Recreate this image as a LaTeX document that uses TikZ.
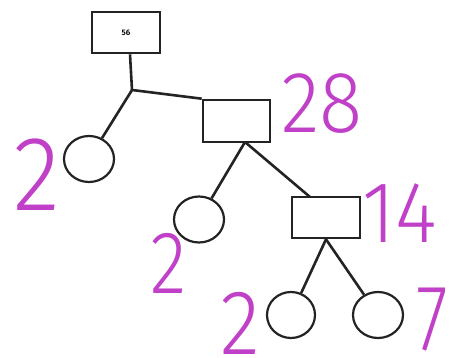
\documentclass[tikz,border=0pt]{standalone}
\usepackage{fontspec}
\setmainfont{Fira Sans}[UprightFont=* Light]
\usetikzlibrary{shapes.geometric,calc}
\definecolor{mag}{RGB}{192,64,200}
\definecolor{ink}{RGB}{35,35,35}
\newcommand{\narrow}[2][0.92]{\scalebox{#1}[1]{#2}}
\begin{document}
\begin{tikzpicture}[x=1pt,y=-1pt,
  link/.style={draw=ink,line width=2.6pt},
  boxnode/.style={draw=ink,line width=2.6pt,rectangle,inner sep=0pt},
  circnode/.style={draw=ink,line width=2.2pt,ellipse,inner sep=0pt,minimum width=50pt,minimum height=46pt},
  num/.style={text=mag,font=\fontsize{87}{87}\selectfont,inner sep=0pt,anchor=base west}]
\useasboundingbox (0,0) rectangle (452,358);
\node[boxnode,minimum width=68pt,minimum height=41pt] (b56) at (126,32.5) {\fontsize{8}{8}\selectfont\bfseries 56};
\node[boxnode,minimum width=67pt,minimum height=42pt] (b28) at (236.5,121) {};
\node[boxnode,minimum width=68pt,minimum height=41pt] (b14) at (326,217.5) {};
\node[circnode] (c1) at (89,159) {};
\node[circnode] (c2) at (199,219.5) {};
\node[circnode,minimum width=48pt] (c3) at (291,315) {};
\node[circnode] (c4) at (378,315) {};
\coordinate (J) at (132,90);
\coordinate (p28) at (245,142);
\coordinate (t14) at (310,197);
\draw[link] ($(b56.south)+(4,0)$) -- (J);
\draw[link] (J) -- (c1);
\draw[link] (J) -- (b28.north west);
\draw[link] (p28) -- (c2);
\draw[link] (p28) -- (t14);
\draw[link] (b14.south) -- (c3);
\draw[link] (b14.south) -- (c4);
\node[num] (l28) at (281,133) {\narrow{28}};
\node[num] (l14) at (362,242) {\narrow{14}};
\node[num,font=\fontsize{106}{106}\selectfont] (l2a) at (13,210) {\narrow{2}};
\node[num,font=\fontsize{89}{89}\selectfont] (l2b) at (150,293) {\narrow[0.85]{2}};
\node[num,font=\fontsize{92}{92}\selectfont] (l2c) at (220,354) {\narrow[0.9]{2}};
\node[num,font=\fontsize{94}{94}\selectfont,anchor=base east] (l7) at (448,350) {\narrow[0.77]{7}};
\end{tikzpicture}
\end{document}
